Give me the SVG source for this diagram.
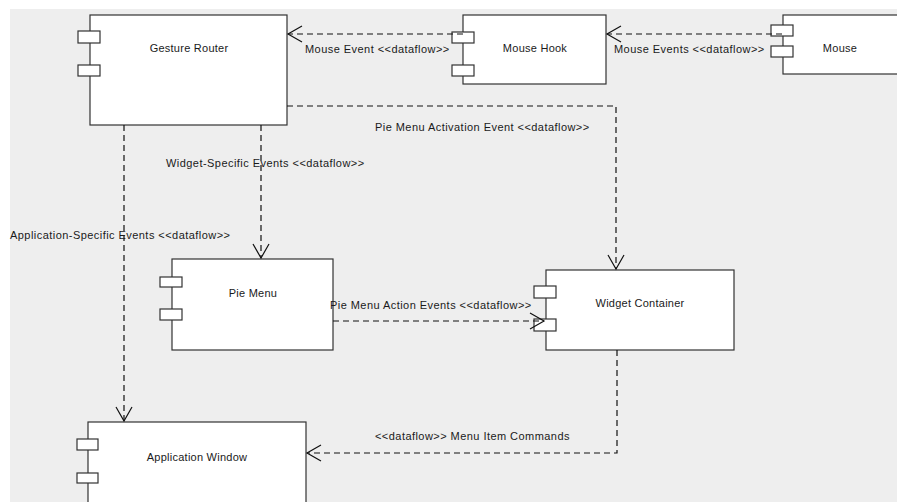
<svg xmlns="http://www.w3.org/2000/svg" width="897" height="502" viewBox="0 0 897 502">
<style>
.box{fill:#fff;stroke:#333;stroke-width:1.2}
.port{fill:#fff;stroke:#333;stroke-width:1.2}
.t{font-family:"Liberation Sans",Arial,sans-serif;font-size:11px;fill:#1a1a1a;letter-spacing:0.45px}
.n{letter-spacing:0.25px}
.c{text-anchor:middle}
.edge{fill:none;stroke:#111;stroke-width:1.2;stroke-dasharray:6,4;marker-end:url(#arr)}
</style>
<defs>
<marker id="arr" viewBox="-16 -10 18 20" markerWidth="18" markerHeight="20" refX="0" refY="0" orient="auto" markerUnits="userSpaceOnUse">
<path d="M-14,-8 L0,0 L-14,8" fill="none" stroke="#111" stroke-width="1.2"/>
</marker>
</defs>
<rect x="0" y="0" width="897" height="502" fill="#fff"/>
<rect x="10" y="9" width="887" height="493" fill="#eeeeee"/>

<g id="gesture-router">
<rect class="box" x="90" y="15" width="197" height="110"/>
<rect class="port" x="78" y="31" width="22" height="12"/>
<rect class="port" x="78" y="65" width="22" height="11"/>
<text class="t n c" x="189" y="52">Gesture Router</text>
</g>
<g id="mouse-hook">
<rect class="box" x="463" y="15" width="143" height="69"/>
<rect class="port" x="452" y="32" width="22" height="11"/>
<rect class="port" x="452" y="65" width="22" height="11"/>
<text class="t n c" x="535" y="52">Mouse Hook</text>
</g>
<g id="mouse">
<rect class="box" x="783" y="15" width="130" height="59"/>
<rect class="port" x="771" y="25" width="22" height="11"/>
<rect class="port" x="771" y="46" width="22" height="11"/>
<text class="t n c" x="840" y="52">Mouse</text>
</g>
<g id="pie-menu">
<rect class="box" x="172" y="259" width="161" height="91"/>
<rect class="port" x="160" y="277" width="22" height="10"/>
<rect class="port" x="160" y="309" width="22" height="11"/>
<text class="t n c" x="253" y="297">Pie Menu</text>
</g>
<g id="widget-container">
<rect class="box" x="546" y="270" width="188" height="80"/>
<rect class="port" x="534" y="286" width="22" height="12"/>
<rect class="port" x="534" y="319" width="22" height="12"/>
<text class="t n c" x="640" y="307">Widget Container</text>
</g>
<g id="application-window">
<rect class="box" x="88" y="422" width="218" height="100"/>
<rect class="port" x="77" y="439" width="21" height="11"/>
<rect class="port" x="77" y="473" width="21" height="10"/>
<text class="t n c" x="197" y="461">Application Window</text>
</g>

<g id="connectors">
<path class="edge" d="M782,34 L607,34"/>
<path class="edge" d="M463,34 L288,34"/>
<path class="edge" d="M287,106 L616,106 L616,269"/>
<path class="edge" d="M261,125 L261,258"/>
<path class="edge" d="M124,125 L124,421"/>
<path class="edge" d="M333,321 L544,321"/>
<path class="edge" d="M617,350 L617,453 L307,453"/>
<text class="t" x="614" y="53">Mouse Events &lt;&lt;dataflow&gt;&gt;</text>
<text class="t" x="305" y="53">Mouse Event &lt;&lt;dataflow&gt;&gt;</text>
<text class="t" x="375" y="131">Pie Menu Activation Event &lt;&lt;dataflow&gt;&gt;</text>
<text class="t" x="166" y="167">Widget-Specific Events &lt;&lt;dataflow&gt;&gt;</text>
<text class="t" x="10" y="239">Application-Specific Events &lt;&lt;dataflow&gt;&gt;</text>
<text class="t" x="330" y="309">Pie Menu Action Events &lt;&lt;dataflow&gt;&gt;</text>
<text class="t" x="375" y="440">&lt;&lt;dataflow&gt;&gt; Menu Item Commands</text>
</g>
</svg>
